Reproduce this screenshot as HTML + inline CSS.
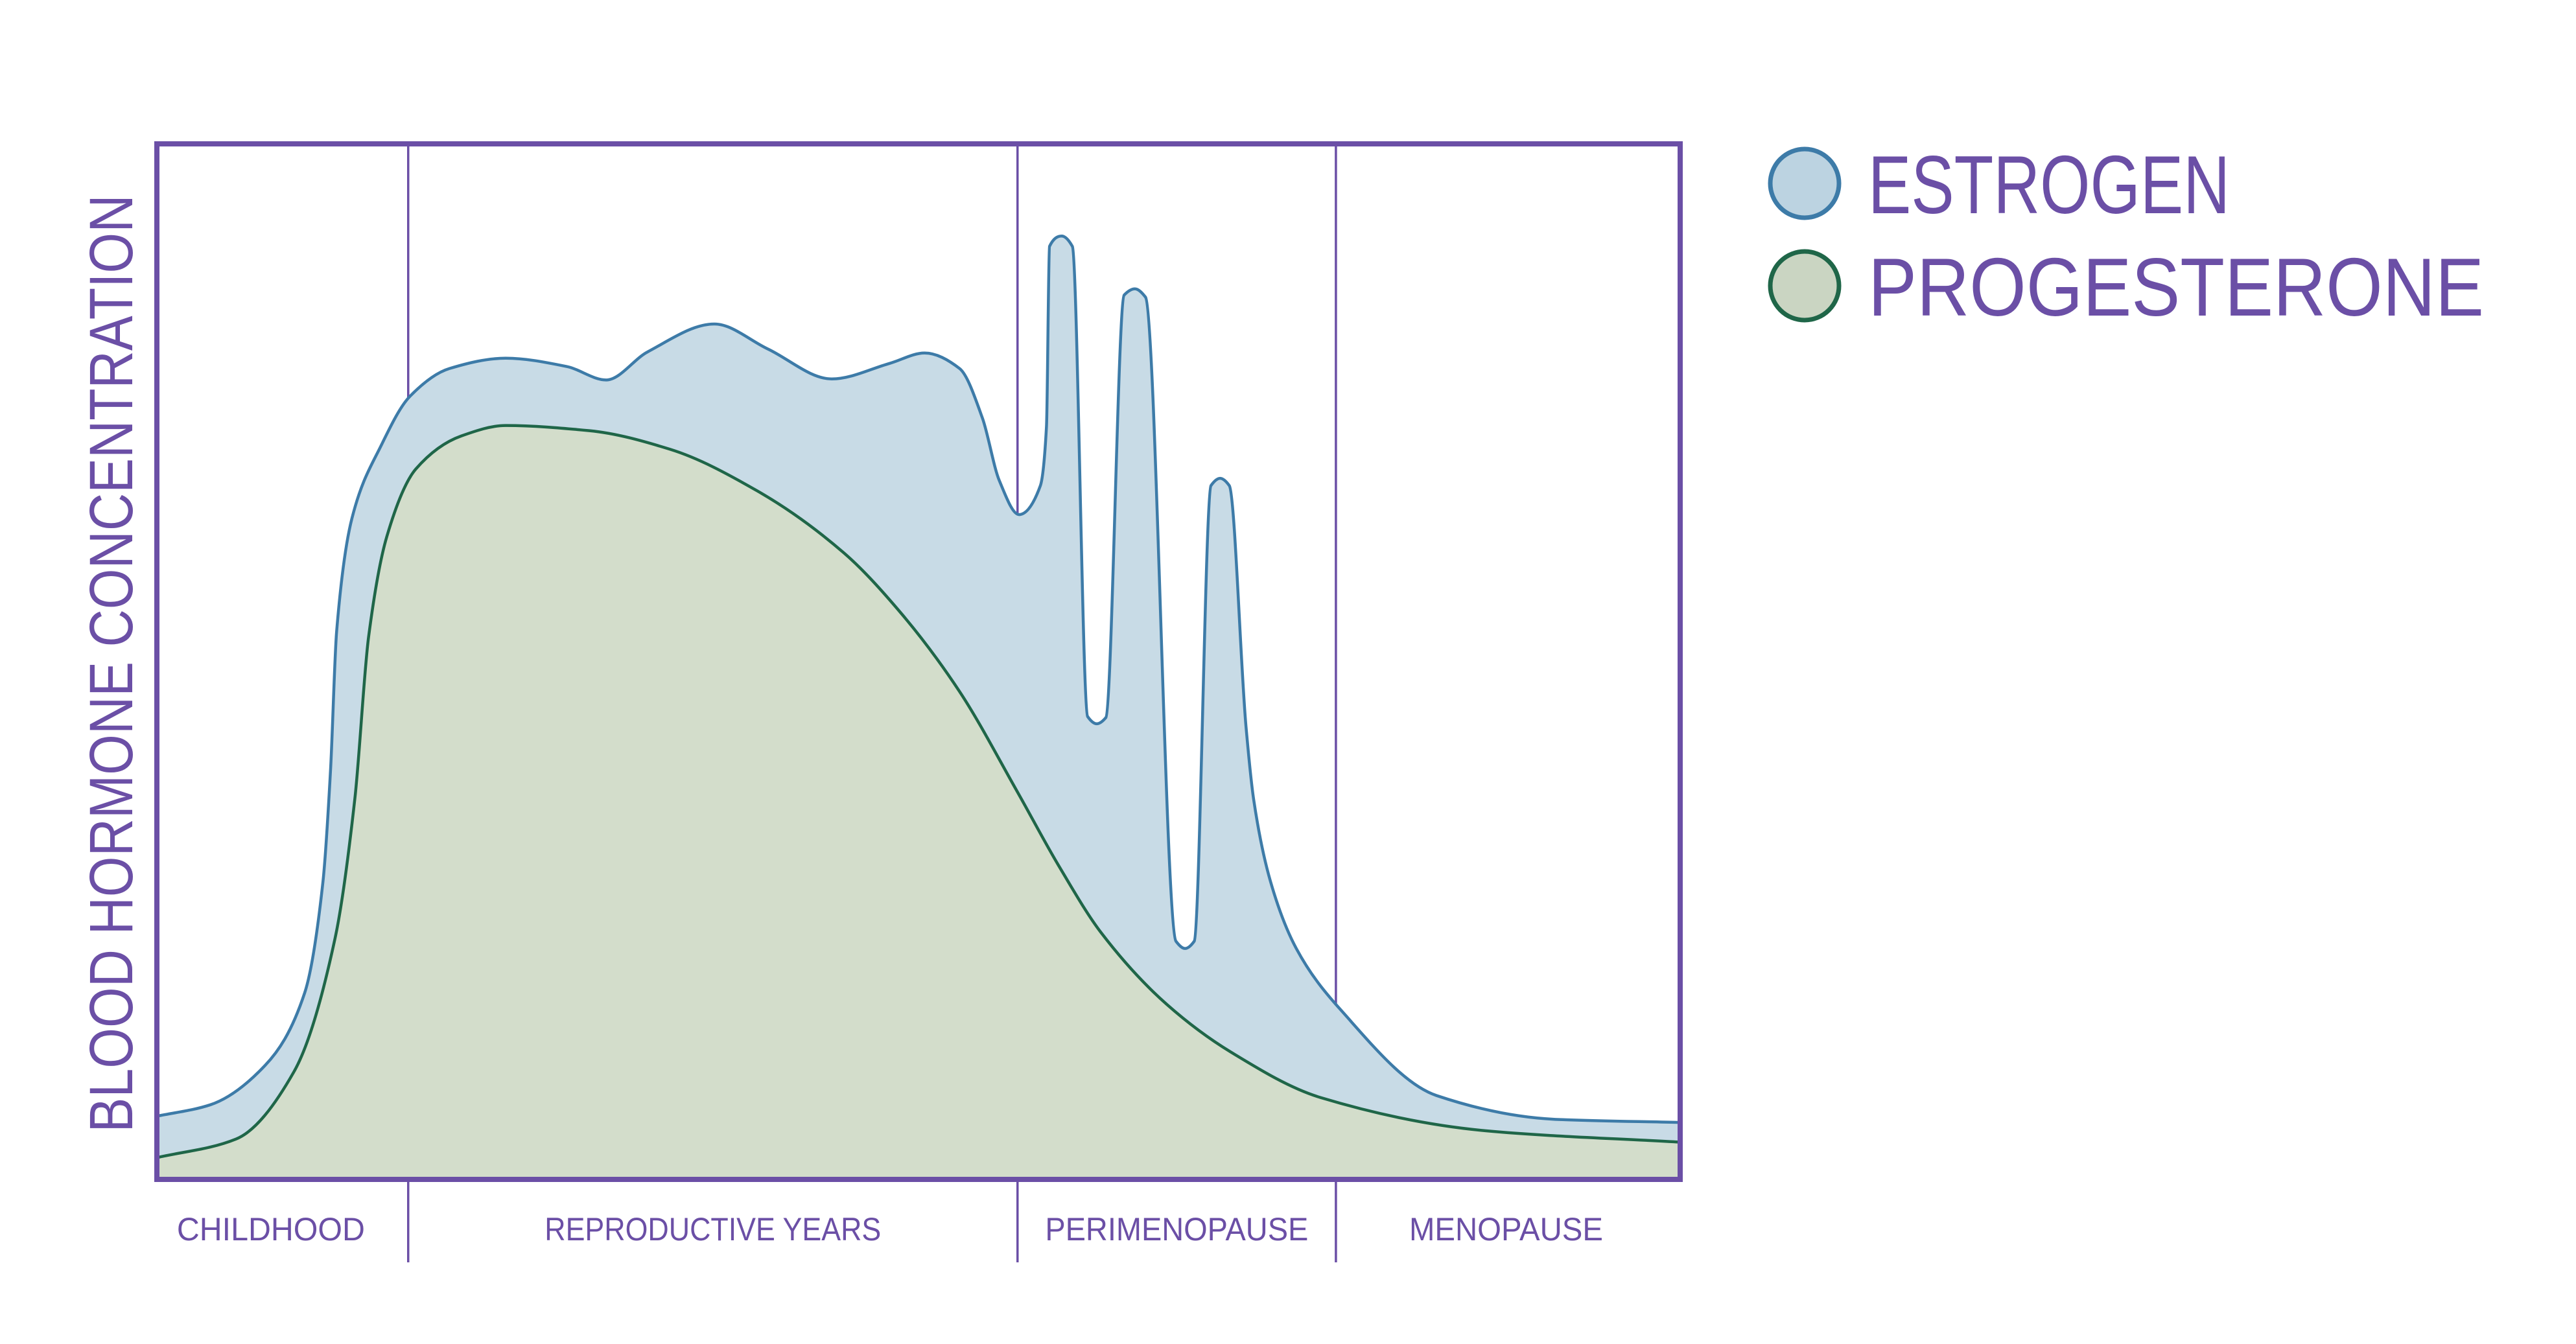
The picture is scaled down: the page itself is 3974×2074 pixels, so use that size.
<!DOCTYPE html>
<html><head><meta charset="utf-8"><style>
html,body{margin:0;padding:0;background:#fff;width:3974px;height:2074px;overflow:hidden}
svg{display:block}
text{font-family:"Liberation Sans",sans-serif;fill:#6b4fa6}
</style></head><body>
<svg id="chart" width="3974" height="2074" viewBox="0 0 3974 2074" xmlns="http://www.w3.org/2000/svg">
<g id="areas"></g>
<g id="frame"></g>
<text x="0" y="0" transform="translate(204,1024) rotate(-90)" text-anchor="middle" font-size="95" textLength="1447" lengthAdjust="spacingAndGlyphs">BLOOD HORMONE CONCENTRATION</text>
<g>
<circle cx="2784" cy="283" r="53" fill="#bcd3e1" stroke="#3d7ba8" stroke-width="7"/>
<text x="2882" y="329" font-size="127" textLength="558" lengthAdjust="spacingAndGlyphs">ESTROGEN</text>
<circle cx="2784" cy="441" r="53" fill="#cad5c2" stroke="#1f6648" stroke-width="7"/>
<text x="2882" y="487" font-size="127" textLength="950" lengthAdjust="spacingAndGlyphs">PROGESTERONE</text>
</g>
</svg>
<script>
const stageNames = ["CHILDHOOD","REPRODUCTIVE YEARS","PERIMENOPAUSE","MENOPAUSE"];
const stageBounds = [0, 16.5, 56.5, 77.4, 100];
const estrogenX = [0,3.5,7.1,9.7,10.9,11.4,11.8,12.8,14.7,16.6,19.2,22.9,26.9,29.5,32.2,36.6,40.1,44.3,48.1,50.4,52.7,54.2,55.3,56.6,58.0,58.4,58.6,59.4,60.1,61.1,61.7,62.3,63.5,64.2,64.9,66.9,67.5,68.1,69.2,69.8,70.4,71.5,72.0,73.1,74.8,77.7,84.0,91.8,100];
const estrogenY = [6.1,7.2,11.0,18.0,28.7,39.5,52.9,63.8,70.8,75.6,78.3,79.3,78.5,77.2,79.9,82.6,80.2,77.3,78.8,79.8,78.3,73.5,67.5,64.2,67.0,72.7,90.1,91.1,90.1,44.7,44.0,44.6,85.4,86.0,85.2,23.0,22.3,23.0,67.0,67.7,67.0,43.7,36.7,28.8,22.3,16.4,8.1,5.8,5.5];
const progX = [0,5.2,9.0,11.7,13.0,13.9,15.1,17.0,20.0,22.9,28.4,33.7,39.4,45.1,48.9,52.7,56.5,59.2,62.0,66.3,70.5,76.4,87.2,100];
const progY = [2.1,3.9,10.4,23.3,36.8,52.4,62.1,68.6,71.8,72.8,72.3,70.5,66.5,60.5,54.6,47.1,37.4,30.3,23.8,16.9,12.3,7.9,4.7,3.6];

const X0=242,X1=2592,Y0=1820,Y1=222;
const sx=v=>X0+(X1-X0)*v/100;
const sy=v=>Y0-(Y0-Y1)*v/100;
const NS="http://www.w3.org/2000/svg";

function curve(xs,ys){
  const p=xs.map((x,i)=>[sx(x),sy(ys[i])]);
  const n=p.length, d=[], m=[];
  for(let i=0;i<n-1;i++) d.push((p[i+1][1]-p[i][1])/(p[i+1][0]-p[i][0]));
  m[0]=d[0]; m[n-1]=d[n-2];
  for(let i=1;i<n-1;i++){
    if(d[i-1]*d[i]<=0) m[i]=0;
    else { const h0=p[i][0]-p[i-1][0], h1=p[i+1][0]-p[i][0];
      const w1=2*h1+h0, w2=h1+2*h0; m[i]=(w1+w2)/(w1/d[i-1]+w2/d[i]); }
  }
  let s="M"+p[0][0]+","+p[0][1];
  for(let i=0;i<n-1;i++){
    const h=(p[i+1][0]-p[i][0])/3;
    s+=" C"+(p[i][0]+h)+","+(p[i][1]+m[i]*h)+" "+(p[i+1][0]-h)+","+(p[i+1][1]-m[i+1]*h)+" "+p[i+1][0]+","+p[i+1][1];
  }
  return s;
}
const areas=document.getElementById("areas");
function addArea(xs,ys,fill,stroke,name){
  const line=curve(xs,ys);
  const a=document.createElementNS(NS,"path");
  a.setAttribute("d",line+" L"+sx(100)+","+Y0+" L"+sx(0)+","+Y0+" Z");
  a.setAttribute("fill",fill);
  
  
  areas.appendChild(a);
  const l=document.createElementNS(NS,"path");
  l.setAttribute("d",line);l.setAttribute("fill","none");l.setAttribute("stroke",stroke);l.setAttribute("stroke-width","4.5");
  
  
  areas.appendChild(l);
}
const frame=document.getElementById("frame");
for(let i=1;i<stageBounds.length-1;i++){
  const ln=document.createElementNS(NS,"line");
  ln.setAttribute("x1",sx(stageBounds[i]));ln.setAttribute("x2",sx(stageBounds[i]));
  ln.setAttribute("y1",Y1);ln.setAttribute("y2",1948);
  ln.setAttribute("stroke","#6b4fa6");ln.setAttribute("stroke-width","3.5");
  
  
  areas.appendChild(ln);
}
addArea(estrogenX,estrogenY,"#c8dbe6","#3d7ba8","estrogen");
addArea(progX,progY,"#d3ddcb","#1f6648","progesterone");

const r=document.createElementNS(NS,"rect");
r.setAttribute("x",X0);r.setAttribute("y",Y1);r.setAttribute("width",X1-X0);r.setAttribute("height",Y0-Y1);
r.setAttribute("fill","none");r.setAttribute("stroke","#6b4fa6");r.setAttribute("stroke-width","8");


frame.appendChild(r);
const labelWidths=[290,519,406,299];
const labelShift=[-18,0,0,-3];
stageNames.forEach((s,i)=>{
  const t=document.createElementNS(NS,"text");
  t.setAttribute("x",(sx(stageBounds[i])+sx(stageBounds[i+1]))/2+labelShift[i]);
  t.setAttribute("y",1914);t.setAttribute("text-anchor","middle");t.setAttribute("font-size","50");
  t.setAttribute("textLength", labelWidths[i]);
  t.setAttribute("lengthAdjust","spacingAndGlyphs");
  t.textContent=s;
  
  
  frame.appendChild(t);
});
</script>
</body></html>
